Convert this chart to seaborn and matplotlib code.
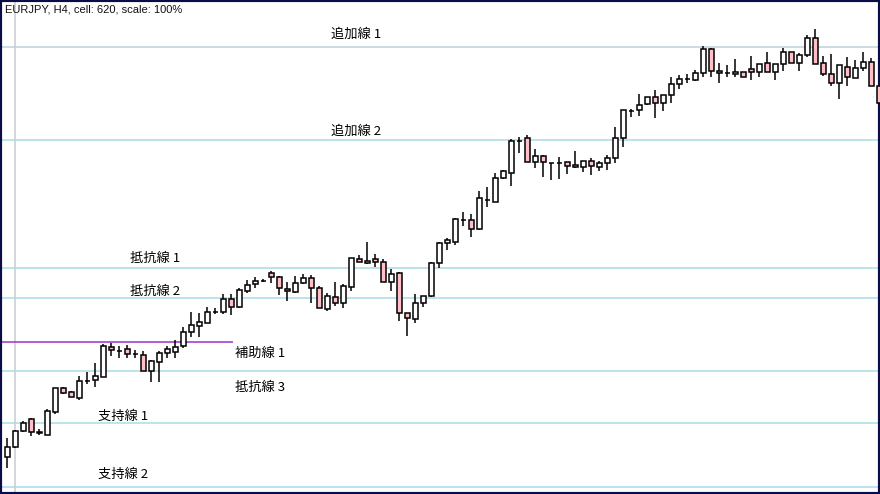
import numpy as np
import pandas as pd
import matplotlib
matplotlib.use("Agg")
import matplotlib.pyplot as plt
import seaborn as sns

# EURJPY H4 candles
opens = [160.43, 160.53, 160.69, 160.81, 160.67, 160.65, 160.88, 161.12, 161.08, 161.02,
         161.19, 161.20, 161.23, 161.53, 161.49, 161.51, 161.46, 161.45, 161.29, 161.38,
         161.47, 161.48, 161.54, 161.68, 161.74, 161.77, 161.88, 161.88, 162.01, 161.93,
         162.09, 162.16, 162.19, 162.27, 162.23, 162.11, 162.08, 162.17, 162.22, 162.12,
         161.91, 162.03, 161.97, 162.13, 162.41, 162.37, 162.41, 162.38, 162.18, 162.27,
         161.87, 161.81, 161.97, 162.04, 162.37, 162.57, 162.58, 162.80, 162.80, 162.71,
         163.00, 162.98, 163.22, 163.27, 163.59, 163.62, 163.38, 163.44, 163.37, 163.37,
         163.38, 163.35, 163.33, 163.39, 163.33, 163.37, 163.42, 163.62, 163.89, 163.90,
         163.96, 164.03, 163.97, 164.05, 164.16, 164.21, 164.20, 164.27, 164.51, 164.29,
         164.27, 164.26, 164.28, 164.31, 164.28, 164.37, 164.28, 164.36, 164.48, 164.37,
         164.45, 164.62, 164.37, 164.26, 164.17, 164.33, 164.22, 164.32, 164.38, 164.14]
highs = [160.62, 160.70, 160.79, 160.82, 160.71, 160.91, 161.12, 161.13, 161.09, 161.24,
         161.28, 161.37, 161.56, 161.57, 161.54, 161.55, 161.50, 161.49, 161.40, 161.49,
         161.54, 161.60, 161.73, 161.88, 161.87, 161.93, 161.92, 162.06, 162.06, 162.12,
         162.20, 162.23, 162.21, 162.29, 162.24, 162.18, 162.24, 162.26, 162.25, 162.14,
         162.07, 162.18, 162.16, 162.42, 162.45, 162.58, 162.46, 162.41, 162.31, 162.28,
         161.87, 162.06, 162.04, 162.38, 162.58, 162.62, 162.82, 162.88, 162.86, 163.09,
         163.13, 163.27, 163.30, 163.61, 163.63, 163.65, 163.51, 163.45, 163.37, 163.43,
         163.38, 163.49, 163.39, 163.42, 163.39, 163.45, 163.73, 163.90, 163.91, 164.06,
         164.03, 164.10, 164.05, 164.23, 164.25, 164.26, 164.30, 164.54, 164.52, 164.37,
         164.35, 164.41, 164.28, 164.44, 164.36, 164.48, 164.36, 164.52, 164.48, 164.47,
         164.65, 164.71, 164.44, 164.46, 164.35, 164.43, 164.40, 164.48, 164.42, 164.16]
lows = [160.32, 160.52, 160.68, 160.64, 160.65, 160.65, 160.86, 161.06, 161.03, 161.00,
        161.16, 161.13, 161.23, 161.44, 161.42, 161.42, 161.42, 161.29, 161.18, 161.18,
        161.42, 161.42, 161.52, 161.63, 161.63, 161.77, 161.86, 161.86, 161.85, 161.92,
        162.07, 162.12, 162.18, 162.17, 162.05, 161.99, 162.07, 162.16, 161.97, 161.92,
        161.89, 161.94, 161.92, 162.09, 162.38, 162.36, 162.33, 162.18, 162.09, 161.79,
        161.64, 161.77, 161.93, 162.03, 162.32, 162.50, 162.55, 162.74, 162.63, 162.70,
        162.93, 162.98, 163.21, 163.14, 163.47, 163.38, 163.32, 163.23, 163.20, 163.21,
        163.26, 163.32, 163.28, 163.25, 163.29, 163.30, 163.37, 163.53, 163.83, 163.84,
        163.95, 163.82, 163.89, 163.97, 164.11, 164.17, 164.19, 164.23, 164.23, 164.17,
        164.23, 164.23, 164.23, 164.20, 164.23, 164.28, 164.20, 164.29, 164.37, 164.29,
        164.43, 164.36, 164.24, 164.14, 164.01, 164.14, 164.22, 164.29, 164.14, 163.95]
closes = [160.53, 160.69, 160.77, 160.68, 160.68, 160.89, 161.12, 161.07, 161.03, 161.19,
          161.19, 161.24, 161.54, 161.50, 161.49, 161.46, 161.46, 161.29, 161.39, 161.47,
          161.51, 161.53, 161.68, 161.75, 161.78, 161.88, 161.88, 162.01, 161.93, 162.10,
          162.15, 162.19, 162.19, 162.23, 162.12, 162.09, 162.17, 162.22, 162.12, 161.92,
          162.04, 161.97, 162.14, 162.42, 162.38, 162.39, 162.38, 162.18, 162.26, 161.87,
          161.82, 161.97, 162.04, 162.37, 162.57, 162.60, 162.81, 162.80, 162.71, 163.02,
          163.00, 163.22, 163.29, 163.59, 163.59, 163.38, 163.44, 163.38, 163.37, 163.37,
          163.34, 163.33, 163.39, 163.34, 163.37, 163.42, 163.62, 163.90, 163.89, 163.95,
          164.03, 163.97, 164.05, 164.16, 164.21, 164.21, 164.27, 164.51, 164.29, 164.27,
          164.27, 164.28, 164.23, 164.28, 164.36, 164.28, 164.36, 164.48, 164.37, 164.45,
          164.62, 164.36, 164.26, 164.17, 164.35, 164.23, 164.32, 164.38, 164.14, 163.97]

# horizontal levels
level_names = ["追加線 1", "追加線 2", "抵抗線 1", "抵抗線 2", "抵抗線 3", "支持線 1", "支持線 2"]
level_prices = [164.53, 163.60, 162.32, 162.02, 161.29, 160.77, 160.13]
aux_name = "補助線 1"
aux_price = 161.58

df = pd.DataFrame({"open": opens, "high": highs, "low": lows, "close": closes})
df["x"] = np.arange(len(df))
df["up"] = df["close"] >= df["open"]

sns.set_theme(style="white")
plt.rcParams["font.family"] = ["Noto Sans CJK JP", "DejaVu Sans"]

fig = plt.figure(figsize=(8.8, 4.94), dpi=100)
ax = fig.add_axes([0, 0, 1, 1])

# level lines
line_colors = ["#bcd3da"] + ["#a9dbe7"] * 6
for p, c in zip(level_prices, line_colors):
    ax.axhline(p, color=c, lw=1.1, zorder=1)
ax.hlines(aux_price, -1, 28.2, color="#9b30d0", lw=1.1, zorder=1)
ax.axvline(1, color="#cccccc", lw=1.1, zorder=0)

# wicks + bodies
ax.vlines(df["x"], df["low"], df["high"], color="black", lw=1.1, zorder=2)
body_colors = np.where(df["up"], "white", "#ffbfc9")
ax.bar(df["x"], (df["close"] - df["open"]).abs(), bottom=df[["open", "close"]].min(axis=1),
       width=0.56, color=body_colors, edgecolor="black", linewidth=1.1, zorder=3)

# labels
label_pos = [(40.5, 164.66), (40.5, 163.69), (15.3, 162.42), (15.3, 162.09),
             (28.5, 161.13), (11.3, 160.84), (11.3, 160.26)]
for name, (lx, ly) in zip(level_names, label_pos):
    ax.text(lx, ly, name, fontsize=9.5, color="black", va="center", ha="left", zorder=4)
ax.text(28.5, 161.47, aux_name, fontsize=9.5, color="black", va="center", ha="left", zorder=4)

ax.set_xlim(-0.9125, 109.09)
ax.set_ylim(160.06, 165.00)
ax.set_xticks([])
ax.set_yticks([])
for s in ax.spines.values():
    s.set_color("#0b0b45")
    s.set_linewidth(3)

fig.text(5 / 880, 1 - 9 / 494, "EURJPY, H4, cell: 620, scale: 100%", fontsize=8,
         family="Liberation Sans", va="center", ha="left", color="#111111")

fig.savefig("out.png", dpi=100)
